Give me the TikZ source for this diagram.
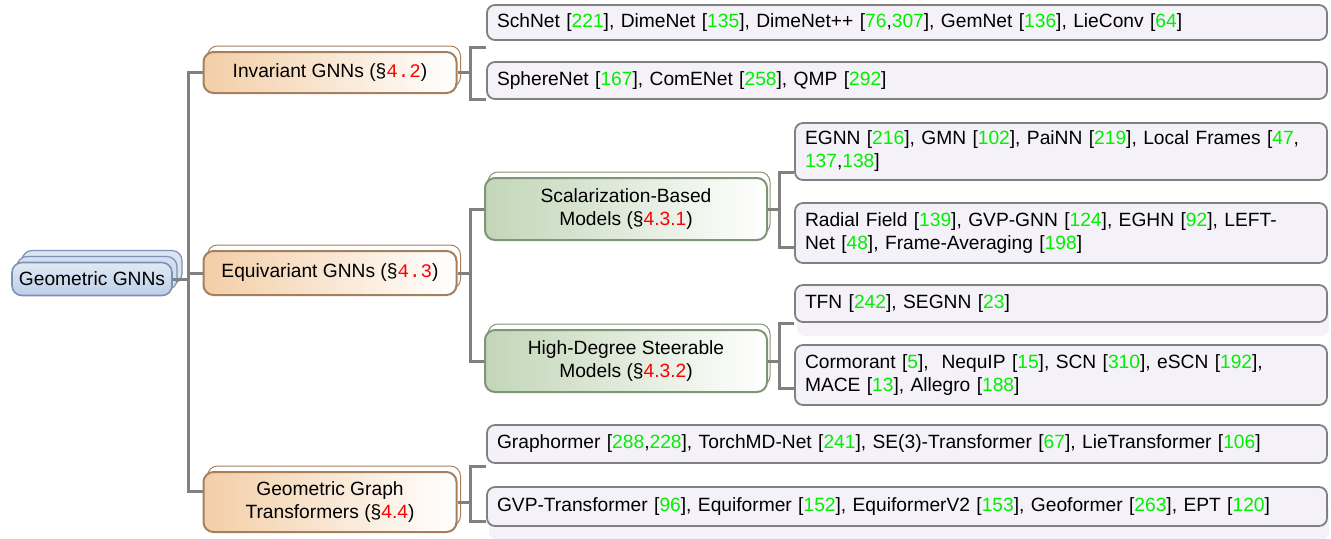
\documentclass[tikz,border=0pt]{standalone}
\usepackage{fontspec}
\setmainfont{Liberation Sans}
\setmonofont{Liberation Mono}
\usepackage{tikz}
\usetikzlibrary{positioning,shadows,calc}
\definecolor{citegreen}{RGB}{0,240,0}
\definecolor{secred}{RGB}{255,0,0}
\definecolor{linkgray}{RGB}{128,128,128}
\definecolor{leaffill}{RGB}{244,242,248}
\definecolor{leafedge}{RGB}{128,128,128}
\definecolor{rootedge}{RGB}{125,145,178}
\definecolor{rootfill}{RGB}{188,206,232}
\definecolor{catedge}{RGB}{165,128,95}
\definecolor{catfill}{RGB}{243,206,166}
\definecolor{subedge}{RGB}{128,148,118}
\definecolor{subfill}{RGB}{194,214,184}
\newcommand{\cit}[1]{\textcolor{citegreen}{#1}}
\newcommand{\sect}[1]{\textcolor{secred}{#1}}

\begin{document}
\begin{tikzpicture}
  [x=0.5pt, y=-0.5pt, font=\fontsize{9.6}{11.5}\selectfont,
  % STYLES
  % The root style is used for the stacked box on the left
  root/.style={rectangle, rounded corners=5pt, draw=rootedge, line width=0.8pt,
    top color=rootfill!45!white, bottom color=rootfill,
    minimum width=80pt, minimum height=16.5pt, inner sep=2pt,
    copy shadow={shadow xshift=5pt, shadow yshift=6pt, draw=rootedge, fill=rootfill!55!white, line width=0.6pt},
    copy shadow={shadow xshift=2.5pt, shadow yshift=3pt, draw=rootedge, fill=rootfill!65!white, line width=0.6pt}},
  % The cat style is used for the sections of the first level
  cat/.style={rectangle, rounded corners=5pt, draw=catedge, line width=1pt,
    left color=catfill, right color=white, text centered,
    minimum width=126.5pt, minimum height=20.5pt, inner sep=2pt,
    copy shadow={shadow xshift=2pt, shadow yshift=3pt, draw=catedge, fill=white, line width=0.5pt}},
  % The sub style is used for the sections of the second level
  sub/.style={rectangle, rounded corners=5pt, draw=subedge, line width=1pt,
    left color=subfill, right color=white, align=center,
    minimum width=141pt, minimum height=31pt, inner sep=2pt,
    copy shadow={shadow xshift=1.5pt, shadow yshift=3pt, draw=subedge, fill=white, line width=0.5pt}},
  % The leaf style is used for the lists of models
  leaf/.style={rectangle, rounded corners=4pt, draw=leafedge, line width=0.9pt,
    fill=leaffill, align=left, inner xsep=5pt, inner ysep=2pt},
  wideleaf/.style={leaf, minimum width=420pt, text width=410pt},
  narrowleaf/.style={leaf, minimum width=266pt, text width=256pt},
  shade/.style={copy shadow={shadow xshift=1pt, shadow yshift=-7pt, draw=none, fill=leaffill}},
  link/.style={draw=linkgray, line width=1.5pt}]
  \useasboundingbox (0,0) rectangle (1331,538);
  % Draw sections
  \node [root] (root) at (92,279) {Geometric GNNs};
  \node [cat] (inv) at (330,72.5) {Invariant GNNs (§\sect{\texttt{4.2}})};
  \node [cat, minimum height=22pt] (equ) at (330,273) {Equivariant GNNs (§\sect{\texttt{4.3}})};
  \node [cat, align=center, minimum height=30pt] (ggt) at (330,502) {Geometric Graph\\Transformers (§\sect{4.4})};
  \node [sub] (scal) at (626,209) {Scalarization-Based\\Models (§\sect{4.3.1})};
  \node [sub] (high) at (626,361) {High-Degree Steerable\\Models (§\sect{4.3.2})};
  %%%%%%%%%%%%%%%
  % Lists of models
  \node [wideleaf, minimum height=17.5pt] (schnet) at (907,22.5) {SchNet [\cit{221}], DimeNet [\cit{135}], DimeNet++ [\cit{76},\cit{307}], GemNet [\cit{136}], LieConv [\cit{64}]};
  \node [wideleaf, minimum height=18.5pt] (sphere) at (907,80.5) {SphereNet [\cit{167}], ComENet [\cit{258}], QMP [\cit{292}]};
  \node [narrowleaf, minimum height=28.5pt] (egnn) at (1061,151.5) {EGNN [\cit{216}], GMN [\cit{102}], PaiNN [\cit{219}], Local Frames [\cit{47},\\\cit{137},\cit{138}]};
  \node [narrowleaf, minimum height=30pt] (radial) at (1061,233) {Radial Field [\cit{139}], GVP-GNN [\cit{124}], EGHN [\cit{92}], LEFT-\\Net [\cit{48}], Frame-Averaging [\cit{198}]};
  \node [narrowleaf, shade, minimum height=18.5pt] (tfn) at (1061,303.5) {TFN [\cit{242}], SEGNN [\cit{23}]};
  \node [narrowleaf, minimum height=30pt] (cormorant) at (1061,375) {Cormorant [\cit{5}],\ \ NequIP [\cit{15}], SCN [\cit{310}], eSCN [\cit{192}],\\MACE [\cit{13}], Allegro [\cit{188}]};
  \node [wideleaf, minimum height=19pt] (graphormer) at (907,444) {Graphormer [\cit{288},\cit{228}], TorchMD-Net [\cit{241}], SE(3)-Transformer [\cit{67}], LieTransformer [\cit{106}]};
  \node [wideleaf, shade, minimum height=19.5pt] (gvp) at (907,506.5) {GVP-Transformer [\cit{96}], Equiformer [\cit{152}], EquiformerV2 [\cit{153}], Geoformer [\cit{263}], EPT [\cit{120}]};
  %%%%%%%%%%%%%%%%
  % Draw the links between sections
  \coordinate (trunk) at ($(root.east)+(16,0)$);
  \draw [link] (root.east) -- (trunk);
  \draw [link] (inv.west) -| (trunk) |- ($(ggt.west)+(0,-11)$);
  \draw [link] (equ.west) -- (equ.west -| trunk);
  % invariant
  \draw [link] (inv.east) -- ++(13,0) coordinate (invfork);
  \draw [link] ($(schnet.south west)+(0,7)$) -| (invfork) |- (sphere.south west);
  % equivariant
  \draw [link] (equ.east) -- ++(13,0) coordinate (equfork);
  \draw [link] (scal.west) -| (equfork) |- (high.west);
  \draw [link] (scal.east) -- ++(11,0) coordinate (scalfork);
  \draw [link] ($(egnn.south west)+(0,-8)$) -| (scalfork) |- ($(radial.south west)+(0,-16)$);
  \draw [link] (high.east) -- ++(11,0) coordinate (highfork);
  \draw [link] ($(tfn.south west)+(0,1)$) -| (highfork) |- ($(cormorant.south west)+(0,-17)$);
  % transformers
  \draw [link] (ggt.east) -- ++(13,0) coordinate (ggtfork);
  \draw [link] ($(graphormer.south west)+(0,3)$) -| (ggtfork) |- ($(gvp.south west)+(0,-5)$);
\end{tikzpicture}
\end{document}
